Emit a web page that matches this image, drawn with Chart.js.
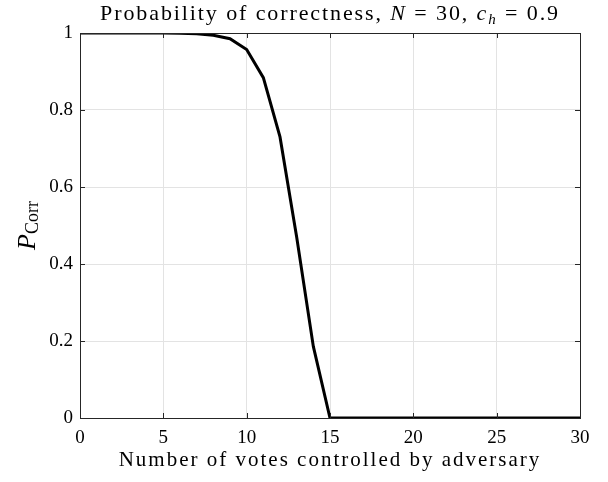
<!DOCTYPE html>
<html>
<head>
<meta charset="utf-8">
<script src="https://cdn.jsdelivr.net/npm/chart.js@4"></script>
<style>
  body { margin: 0; background: #fff; }
  #wrap { width: 608px; height: 482px; }
</style>
</head>
<body>
<div id="wrap"><canvas id="corrChart" width="608" height="482"></canvas></div>
<script>
// votes controlled by adversary (0..30) and probability of correctness
const votes = [0, 1, 2, 3, 4, 5, 6, 7, 8, 9, 10, 11, 12, 13, 14, 15, 16, 17, 18, 19, 20,
               21, 22, 23, 24, 25, 26, 27, 28, 29, 30];
const pCorr = [1, 1, 1, 1, 1, 0.9999, 0.9995, 0.998, 0.994, 0.985, 0.957, 0.884, 0.73, 0.47, 0.186, 0,
               0, 0, 0, 0, 0, 0, 0, 0, 0, 0, 0, 0, 0, 0, 0];
const xTicks = [0, 5, 10, 15, 20, 25, 30];
const yTicks = [0, 0.2, 0.4, 0.6, 0.8, 1];

const serif = '"Liberation Serif", "DejaVu Serif", serif';
const axisColor = '#262626';

// draw a run of [text, style, size, dy] pieces centred on cx
function drawRuns(c, parts, cx, y, spacing) {
    c.letterSpacing = spacing + 'px';
    let w = 0;
    parts.forEach(p => { c.font = p[1] + ' ' + p[2] + 'px ' + serif; w += c.measureText(p[0]).width; });
    let x = cx - w / 2;
    parts.forEach(p => {
        c.font = p[1] + ' ' + p[2] + 'px ' + serif;
        c.fillText(p[0], x, y + p[3]);
        x += c.measureText(p[0]).width;
    });
    c.letterSpacing = '0px';
}

// title, labels, box and inward ticks drawn by hand (matlab look)
const matlabBits = {
    id: 'matlabBits',
    afterDraw(chart) {
        const c = chart.ctx;
        const a = chart.chartArea;
        const xs = chart.scales.x, ys = chart.scales.y;
        c.save();
        c.strokeStyle = axisColor;
        c.lineWidth = 1;
        c.strokeRect(Math.round(a.left) + 0.5, Math.round(a.top) + 0.5,
                     Math.round(a.right - a.left), Math.round(a.bottom - a.top));
        c.beginPath();
        xTicks.forEach(t => {
            const px = Math.round(xs.getPixelForValue(t)) + 0.5;
            c.moveTo(px, a.bottom); c.lineTo(px, a.bottom - 5);
            c.moveTo(px, a.top); c.lineTo(px, a.top + 5);
        });
        yTicks.forEach(t => {
            const py = Math.round(ys.getPixelForValue(t)) + 0.5;
            c.moveTo(a.left, py); c.lineTo(a.left + 5, py);
            c.moveTo(a.right, py); c.lineTo(a.right - 5, py);
        });
        c.stroke();

        c.fillStyle = '#000';
        c.textBaseline = 'alphabetic';
        c.textAlign = 'left';
        const cx = (a.left + a.right) / 2;

        drawRuns(c, [
            ['Probability of correctness, ', 'normal', 22, 0],
            ['N', 'italic', 22, 0],
            [' = 30, ', 'normal', 22, 0],
            ['c', 'italic', 22, 0],
            ['h', 'italic', 15, 4],
            [' = 0.9', 'normal', 22, 0]
        ], cx, 20, 1.9);

        drawRuns(c, [['Number of votes controlled by adversary', 'normal', 21, 0]], cx, 466, 2);

        // y axis label P_Corr
        c.translate(35, (a.top + a.bottom) / 2);
        c.rotate(-Math.PI / 2);
        drawRuns(c, [['P', 'italic', 26, 0], ['Corr', 'normal', 18, 3]], 0, 0, 0);
        c.restore();
    }
};

const ctx = document.getElementById('corrChart').getContext('2d');
const corrChart = new Chart(ctx, {
    type: 'line',
    data: {
        datasets: [{
            data: votes.map((v, i) => ({ x: v, y: pCorr[i] })),
            borderColor: '#000',
            borderWidth: 3,
            pointRadius: 0,
            tension: 0,
            fill: false
        }]
    },
    options: {
        responsive: false,
        animation: false,
        layout: { padding: { left: 0, right: 28, top: 33, bottom: 0 } },
        plugins: {
            legend: { display: false },
            tooltip: { enabled: false }
        },
        scales: {
            x: {
                type: 'linear',
                min: 0, max: 30,
                afterBuildTicks: s => { s.ticks = xTicks.map(v => ({ value: v })); },
                afterFit: s => { s.height = 64; },
                grid: { color: '#e3e3e3', drawTicks: false },
                border: { display: false },
                ticks: { color: '#000', font: { family: serif, size: 19 }, padding: 9, maxRotation: 0 }
            },
            y: {
                min: 0, max: 1,
                afterBuildTicks: s => { s.ticks = yTicks.map(v => ({ value: v })); },
                afterFit: s => { s.width = 80; },
                grid: { color: '#e3e3e3', drawTicks: false },
                border: { display: false },
                ticks: {
                    color: '#000',
                    font: { family: serif, size: 19 },
                    padding: 7,
                    callback: v => String(+v.toFixed(1))
                }
            }
        }
    },
    plugins: [matlabBits]
});
</script>
</body>
</html>
